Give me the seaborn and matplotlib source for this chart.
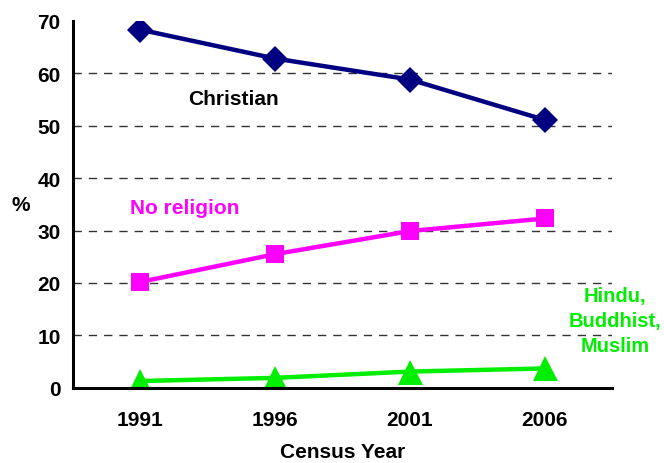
import pandas as pd
import matplotlib.pyplot as plt
import seaborn as sb
import numpy as np
from matplotlib.ticker import FixedLocator

# census data (% of population)
years = ['1991', '1996', '2001', '2006']
christian = [68.3, 62.8, 58.8, 51.1]
no_religion = [20.2, 25.5, 29.9, 32.3]
hindu_buddhist_muslim = [1.3, 1.9, 3.1, 3.7]
groups = ['Christian', 'No religion', 'Hindu, Buddhist, Muslim']

df = pd.DataFrame({
    'year': years * 3,
    'pos': list(range(len(years))) * 3,
    'value': christian + no_religion + hindu_buddhist_muslim,
    'group': np.repeat(groups, len(years)),
})

sb.set_style('white')
plt.rcParams['font.family'] = ['Liberation Sans', 'DejaVu Sans']
plt.rcParams['font.weight'] = 'bold'
for k in ['text.color', 'axes.labelcolor', 'xtick.color', 'ytick.color']:
    plt.rcParams[k] = 'black'

fig, ax = plt.subplots(figsize=(6.64, 4.64), dpi=100)
fig.subplots_adjust(left=0.11, right=0.922, top=0.953, bottom=0.162)

palette = {'Christian': '#000080', 'No religion': '#ff00ff',
           'Hindu, Buddhist, Muslim': '#00ee00'}
markers = {'Christian': 'D', 'No religion': 's', 'Hindu, Buddhist, Muslim': '^'}

sb.lineplot(data=df, x='pos', y='value', hue='group', style='group',
            palette=palette, markers=markers, dashes=False, linewidth=3.2,
            markersize=13, markeredgewidth=0, legend=False, ax=ax)
# triangle a bit bigger, like the original
ax.lines[2].set_markersize(18)

# axes
ax.set_xlim(-0.5, 3.5)
ax.set_ylim(0, 70)
ax.set_yticks(range(0, 80, 10))
ax.set_xticks(range(len(years)))
ax.set_xticklabels(years)
ax.xaxis.set_minor_locator(FixedLocator(np.arange(-0.5, 4, 1)))
ax.tick_params(axis='x', which='major', length=0, pad=16, labelsize=15)
ax.tick_params(axis='x', which='minor', length=6, width=2, direction='out')
ax.tick_params(axis='y', length=6, width=2, direction='out', labelsize=15, pad=3)
for t in ax.get_xticklabels() + ax.get_yticklabels():
    t.set_fontweight('bold')

for s in ['top', 'right']:
    ax.spines[s].set_visible(False)
for s in ['left', 'bottom']:
    ax.spines[s].set_linewidth(2.2)
    ax.spines[s].set_color('black')

# dashed grid (not at 0 or 70)
for yv in range(10, 70, 10):
    ax.axhline(yv, color='#333333', lw=1, ls=(0, (6, 5)), zorder=0)

ax.set_xlabel('Census Year', fontsize=15, fontweight='bold', labelpad=9)
ax.set_ylabel('%', fontsize=15, fontweight='bold', rotation=0, va='center')
ax.yaxis.set_label_coords(-0.097, 0.50)

# series labels
ax.text(0.69, 55.2, 'Christian', color='black', fontsize=15, fontweight='bold',
        ha='center', va='center')
ax.text(0.33, 34.4, 'No religion', color='#ff00ff', fontsize=15,
        fontweight='bold', ha='center', va='center')
ax.text(3.52, 12.8, 'Hindu,\nBuddhist,\nMuslim', color='#00ee00', fontsize=14.5,
        fontweight='bold', ha='center', va='center', linespacing=1.4,
        clip_on=False)

fig.savefig('out.png', dpi=100)
